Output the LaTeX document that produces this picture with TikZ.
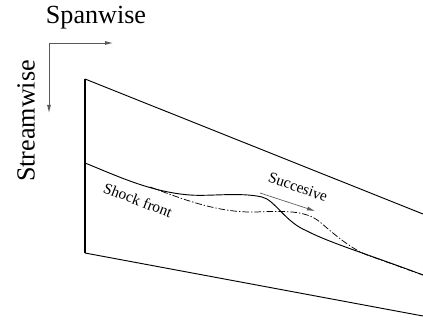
\documentclass[tikz,border=0pt]{standalone}
\usepackage{fontspec}
\setmainfont{Liberation Serif}
\usetikzlibrary{arrows.meta,positioning}
\begin{document}
\begin{tikzpicture}[x=0.75pt,y=-0.75pt, axis/.style={-{Latex[length=6pt,width=3pt]},gray!70!black,line width=.6pt}, edge/.style={line width=.7pt}, biglabel/.style={font=\fontsize{19.6}{22}\selectfont,inner sep=0pt}, smalllabel/.style={font=\fontsize{11.5}{13}\selectfont,inner sep=0pt}]
\useasboundingbox (0,0) rectangle (423,320);
\coordinate (o) at (49,43);
\coordinate (sp) at (113,43);
\coordinate (st) at (49,113);
\coordinate (a) at (85,79);
\coordinate (b) at (423,214);
\coordinate (c) at (85,253);
\coordinate (d) at (423,316);
\coordinate (f) at (85,163);
\coordinate (g) at (423,275);
\coordinate (h) at (150,187);
\coordinate (k) at (367,255);
\coordinate (m) at (260,193);
\coordinate (n) at (315,211);
\node[biglabel] (span) at (96,18) {Spanwise};
\node[biglabel,rotate=90] (stream) at (26,121) {Streamwise};
\node[smalllabel,rotate=-21] (shock) at (138,200) {Shock front};
\node[smalllabel,rotate=-19.5] (succ) at (298,187) {Succesive};
\draw[axis] (o)--(sp);
\draw[axis] (o)--(st);
\draw[line width=1.5pt] (a)--(c);
\draw[edge] (a)--(b);
\draw[edge] (c)--(d);
\draw[edge] (f) .. controls (115,175) and (150,192) .. (190,195) .. controls (210,196.5) and (240,192) .. (262,197) .. controls (275,200) and (285,222) .. (307,231) .. controls (330,243) and (370,255) .. (g);
\draw[line width=.55pt,dash pattern=on 5pt off 1.5pt on 1pt off 1.5pt] (h) .. controls (175,196) and (215,213) .. (255,212) .. controls (285,211) and (305,210) .. (320,222) .. controls (335,235) and (350,248) .. (k) -- (g);
\draw[-{Latex[length=6pt,width=3pt]},gray!70!black,line width=.5pt] (m)--(n);
\end{tikzpicture}
\end{document}
